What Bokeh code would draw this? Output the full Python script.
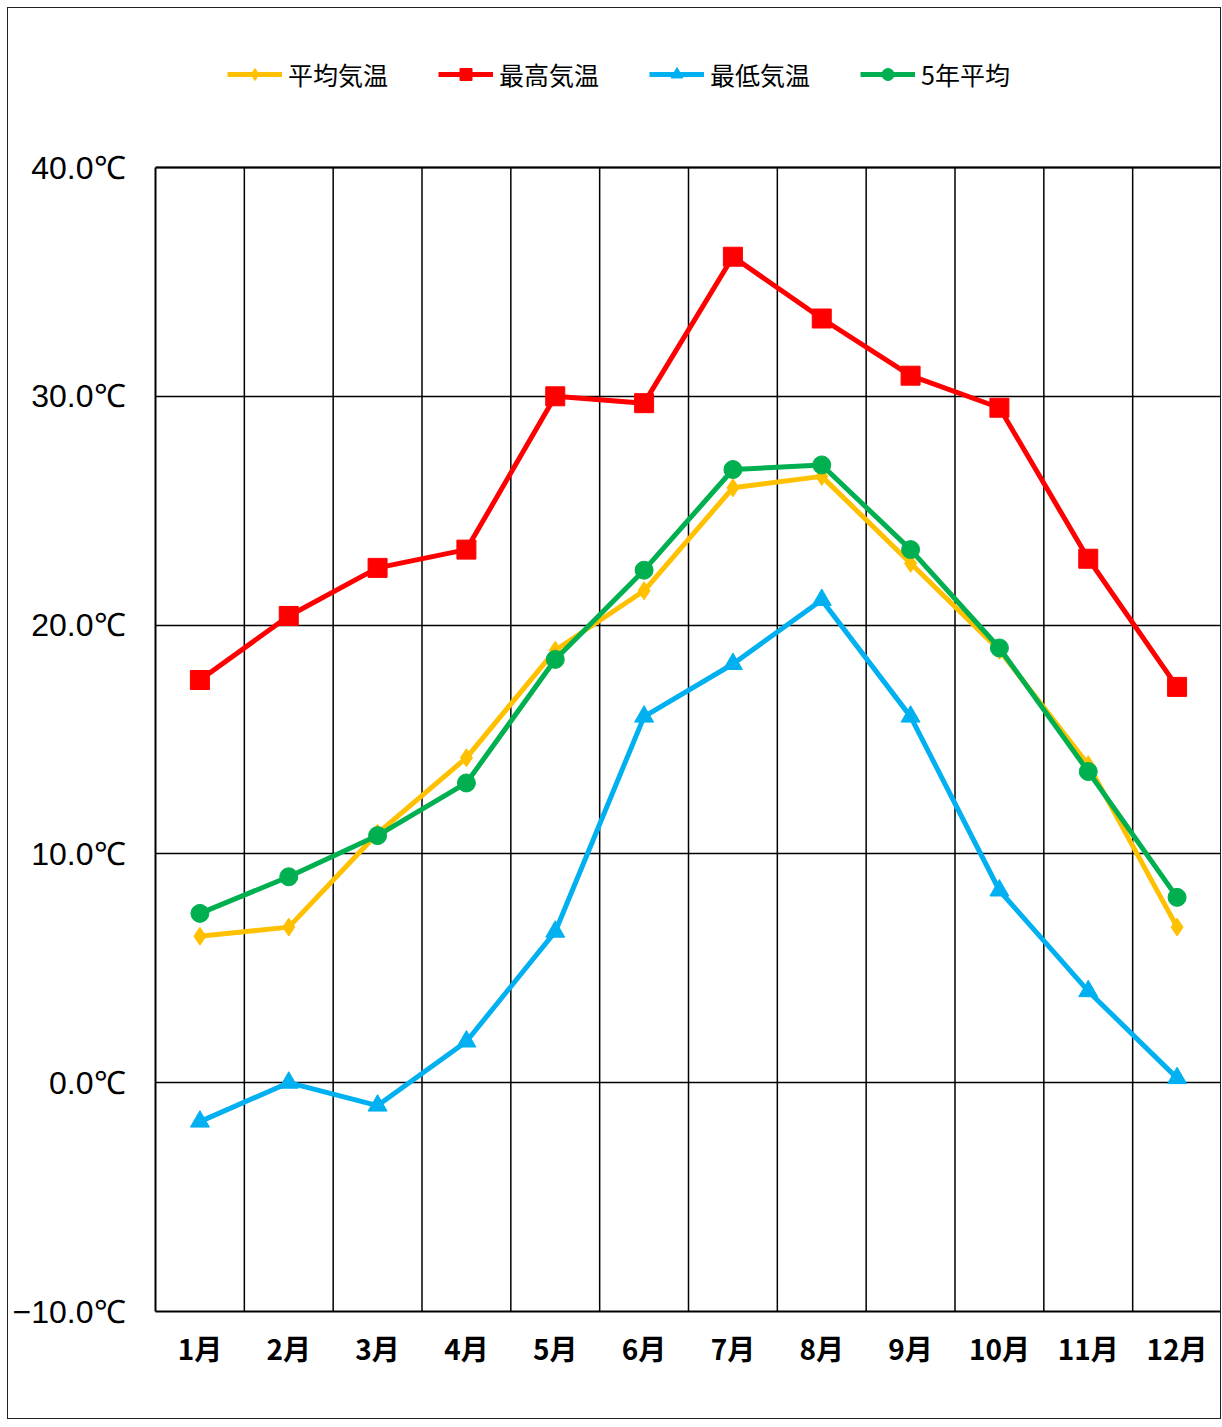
from bokeh.plotting import figure
from bokeh.models import Range1d, FixedTicker, Legend, LegendItem
from bokeh.embed import file_html
from bokeh.resources import INLINE

months = ["1月", "2月", "3月", "4月", "5月", "6月", "7月", "8月", "9月", "10月", "11月", "12月"]
avg_temp = [6.4, 6.8, 10.9, 14.2, 18.9, 21.5, 26.0, 26.5, 22.7, 18.9, 13.9, 6.8]
max_temp = [17.6, 20.4, 22.5, 23.3, 30.0, 29.7, 36.1, 33.4, 30.9, 29.5, 22.9, 17.3]
min_temp = [-1.7, 0.0, -1.0, 1.8, 6.6, 16.0, 18.3, 21.1, 16.0, 8.4, 4.0, 0.2]
avg_5yr = [7.4, 9.0, 10.8, 13.1, 18.5, 22.4, 26.8, 27.0, 23.3, 19.0, 13.6, 8.1]
y_ticks = [-10, 0, 10, 20, 30, 40]
y_tick_labels = ["\u221210.0℃", "0.0℃", "10.0℃", "20.0℃", "30.0℃", "40.0℃"]

series = [
    ("平均気温", avg_temp, "#FFC000", "diamond", 18),
    ("最高気温", max_temp, "#FF0000", "square", 19),
    ("最低気温", min_temp, "#00B0F0", "triangle", 19),
    ("5年平均", avg_5yr, "#00B050", "circle", 18),
]

# layout (pixels)
W, H = 1214, 1412
LEFT, BOTTOM, RIGHT = 147, 109, 1
LEGEND_BAND = 159          # space above the 40℃ line used by the legend
frame_h = H - BOTTOM
plot_h = frame_h - LEGEND_BAND
y_lo, y_hi = y_ticks[0], y_ticks[-1]
y_top = y_hi + (y_hi - y_lo) * LEGEND_BAND / plot_h

xs = [i + 0.5 for i in range(len(months))]
bounds = list(range(len(months) + 1))

p = figure(width=W, height=H, output_backend="svg", toolbar_location=None,
           x_range=Range1d(0, len(months)), y_range=Range1d(y_lo, y_top),
           min_border_left=LEFT, min_border_top=0, min_border_bottom=BOTTOM,
           min_border_right=RIGHT)
p.styles = {"border": "1.5px solid #222", "margin": "7px 0 0 7px"}
p.background_fill_color = "white"
p.border_fill_color = "white"
p.outline_line_color = None

# axes
p.xaxis.ticker = FixedTicker(ticks=xs)
p.xaxis.major_label_overrides = {x: m for x, m in zip(xs, months)}
p.xaxis.major_label_text_font = "Noto Sans CJK JP"
p.xaxis.major_label_text_font_style = "bold"
p.xaxis.major_label_text_font_size = "28px"
p.xaxis.major_label_text_color = "black"
p.xaxis.major_label_standoff = 10
p.yaxis.ticker = FixedTicker(ticks=y_ticks)
p.yaxis.major_label_overrides = {t: l for t, l in zip(y_ticks, y_tick_labels)}
p.yaxis.major_label_text_font = "Liberation Sans"
p.yaxis.major_label_text_font_size = "32px"
p.yaxis.major_label_text_color = "black"
p.yaxis.major_label_standoff = 24
p.yaxis.bounds = (y_lo, y_hi)
for ax in (p.xaxis, p.yaxis):
    ax.major_tick_line_color = None
    ax.minor_tick_line_color = None
    ax.axis_line_color = "black"
    ax.axis_line_width = 2

# grids
p.xgrid.visible = False
p.ygrid.ticker = FixedTicker(ticks=y_ticks)
p.ygrid.grid_line_color = "black"
p.ygrid.grid_line_width = 1.5
p.segment(x0=bounds[1:-1], y0=y_lo, x1=bounds[1:-1], y1=y_hi,
          line_color="black", line_width=1.5)
p.segment(x0=[bounds[-1]], y0=y_lo, x1=[bounds[-1]], y1=y_hi,
          line_color="black", line_width=3)
p.segment(x0=[bounds[0]], y0=y_hi, x1=[bounds[-1]], y1=y_hi,
          line_color="black", line_width=2)

items = []
for name, vals, color, marker, size in series:
    ln = p.line(xs, vals, line_color=color, line_width=5, line_join="round")
    sc = p.scatter(xs, vals, marker=marker, size=size, fill_color=color, line_color=color)
    items.append(LegendItem(label=name, renderers=[ln, sc]))

legend = Legend(items=items, orientation="horizontal", location=(72, frame_h - 84),
                glyph_width=55, glyph_height=30, label_height=30,
                label_standoff=6, spacing=50, padding=0, margin=0,
                border_line_color=None, background_fill_alpha=0,
                label_text_font="Noto Sans CJK JP", label_text_font_size="25px",
                label_text_color="black")
p.add_layout(legend, "center")

open("out.html", "w").write(file_html(p, INLINE))
